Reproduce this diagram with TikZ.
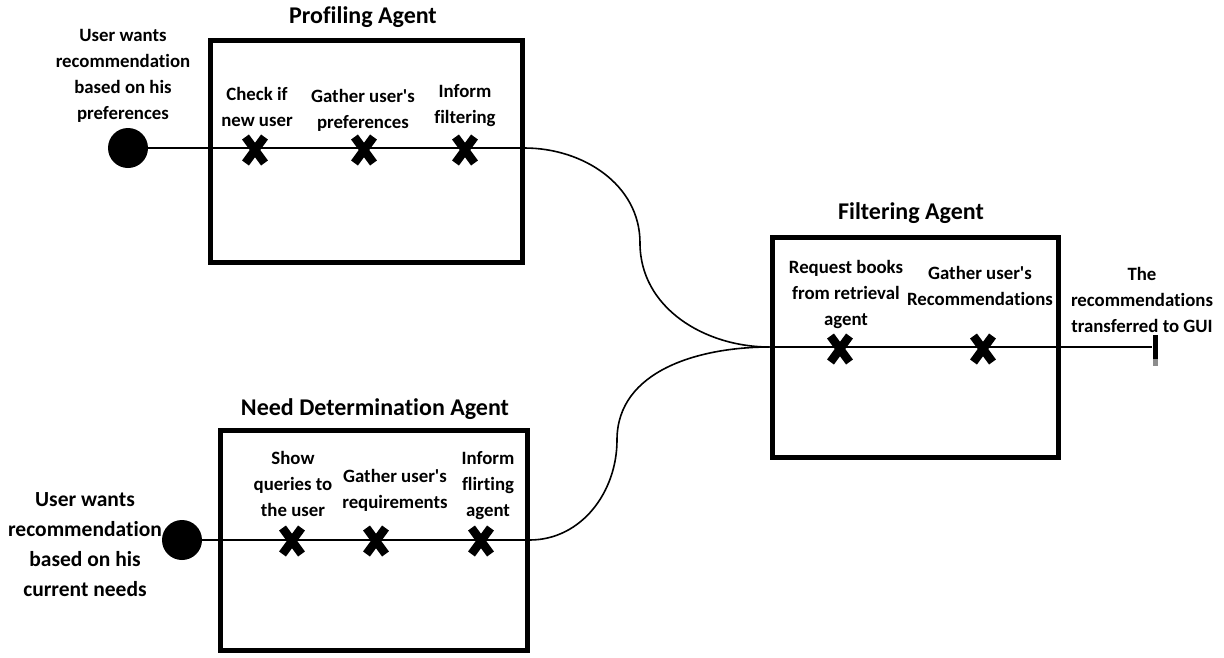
\documentclass[tikz,border=0pt]{standalone}
\usepackage{fontspec}
\setmainfont{Carlito}[Ligatures={NoCommon}]
\begin{document}
\begin{tikzpicture}[x=1pt,y=-1pt,
  agentbox/.style={draw,line width=5pt,inner sep=0pt},
  agenttitle/.style={font=\bfseries\fontsize{24}{28}\selectfont},
  steplabel/.style={font=\bfseries\fontsize{18.8}{26}\selectfont,align=center,inner sep=0pt},
  userlabel/.style={font=\bfseries\fontsize{21.5}{30}\selectfont,align=center,inner sep=0pt},
  startdot/.style={circle,fill=black,minimum size=40pt,inner sep=0pt},
  xmark/.style={minimum width=32pt,minimum height=38pt,inner sep=0pt,
    path picture={
      \draw[line width=8.5pt] ([xshift=-9.5pt,yshift=-13pt]path picture bounding box.center)
        -- ([xshift=9.5pt,yshift=13pt]path picture bounding box.center);
      \draw[line width=8.5pt] ([xshift=-9.5pt,yshift=13pt]path picture bounding box.center)
        -- ([xshift=9.5pt,yshift=-13pt]path picture bounding box.center);}},
  flow/.style={line width=2pt},
  link/.style={line width=1.6pt}
]
\useasboundingbox (0,0) rectangle (1224,657);

% Profiling Agent
\node[agentbox,minimum width=312pt,minimum height=222pt] (pbox) at (366,151) {};
\node[agenttitle] (ptitle) at (363,17) {Profiling Agent};
\node[startdot] (pstart) at (128,148) {};
\node[steplabel] (plabel) at (123,76)
  {User wants\\recommendation\\based on his\\preferences};
\node[xmark] (p1) at (255,150) {};
\node[xmark] (p2) at (364,150) {};
\node[xmark] (p3) at (465,150) {};
\node[steplabel] (p1t) at (257,107) {Check if\\new user};
\node[steplabel] (p2t) at (363,110) {Gather user\textquotesingle s\\preferences};
\node[steplabel] (p3t) at (465,106) {Inform\\filtering};
\draw[flow] (pstart) -- (pbox.east |- pstart);

% Need Determination Agent
\node[agentbox,minimum width=307pt,minimum height=220pt] (nbox) at (373.5,540) {};
\node[agenttitle] (ntitle) at (375,409) {Need Determination Agent};
\node[startdot] (nstart) at (182,540) {};
\node[userlabel] (nlabel) at (85,545)
  {User wants\\recommendation\\based on his\\current needs};
\node[xmark] (n1) at (292,541) {};
\node[xmark] (n2) at (376,541) {};
\node[xmark] (n3) at (481,541) {};
\node[steplabel] (n1t) at (293,484) {Show\\queries to\\the user};
\node[steplabel] (n2t) at (395,490) {Gather user\textquotesingle s\\requirements};
\node[steplabel] (n3t) at (488,486) {Inform\\flirting\\agent};
\draw[flow] (nstart) -- (nbox.east |- nstart);

% Filtering Agent
\node[agentbox,minimum width=286pt,minimum height=220pt] (fbox) at (915,347) {};
\node[agenttitle] (ftitle) at (911,213) {Filtering Agent};
\node[xmark] (f1) at (840,349) {};
\node[xmark] (f2) at (983,349) {};
\node[steplabel] (f1t) at (846,294) {Request books\\from retrieval\\agent};
\node[steplabel] (f2t) at (980,286) {Gather user\textquotesingle s\\Recommendations};
\node[steplabel] (gtxt) at (1142,300) {The\\recommendations\\transferred to GUI};
\node[fill=black,minimum width=5pt,minimum height=24pt,inner sep=0pt] (gui) at (1155,347) {};
\node[fill=black!45,minimum width=5pt,minimum height=7pt,inner sep=0pt,anchor=north] (guitail) at (gui.south) {};
\draw[flow] (fbox.west) -- (gui.west);

% connectors between agents
\coordinate (pbend) at (640,243);
\coordinate (nbend) at (617,440);
\draw[link] (pbox.east |- pstart) to[out=0,in=90] (pbend) to[out=-90,in=180] (fbox.west);
\draw[link] (nbox.east |- nstart) to[out=0,in=-90] (nbend) to[out=90,in=180] (fbox.west);
\end{tikzpicture}
\end{document}
